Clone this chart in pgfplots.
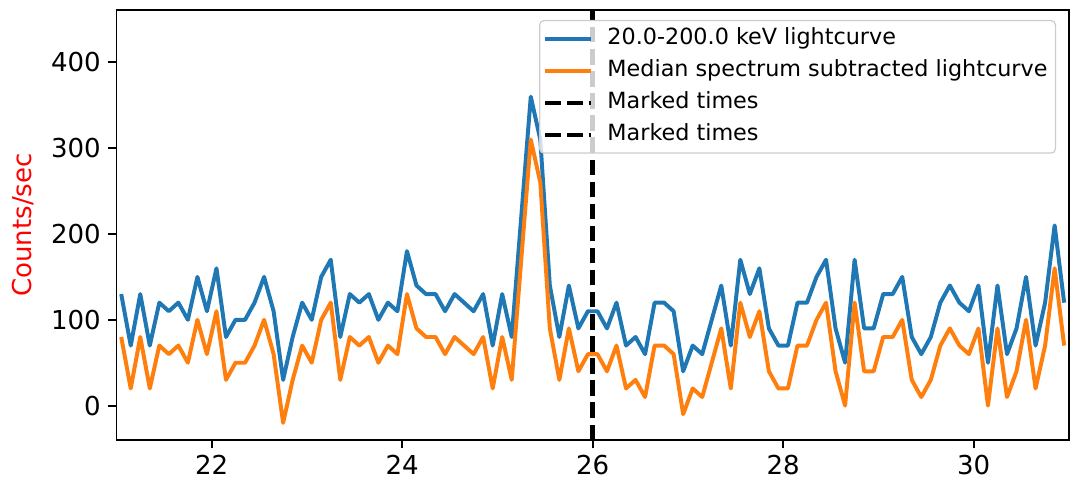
\documentclass[border=0pt]{standalone}
\usepackage{fontspec}
\setmainfont{DejaVu Sans}
\usepackage{pgfplots}
\usepackage{pgfplotstable}
\pgfplotsset{compat=1.18}

\definecolor{mplblue}{HTML}{1F77B4}
\definecolor{mplorange}{HTML}{FF7F0E}

% time (s), 20-200 keV lightcurve, median-spectrum-subtracted lightcurve
\pgfplotstableread{
t     lc   sub
21.05 130  80
21.15  70  20
21.25 130  80
21.35  70  20
21.45 120  70
21.55 110  60
21.65 120  70
21.75 100  50
21.85 150 100
21.95 110  60
22.05 160 110
22.15  80  30
22.25 100  50
22.35 100  50
22.45 120  70
22.55 150 100
22.65 110  60
22.75  30 -20
22.85  80  30
22.95 120  70
23.05 100  50
23.15 150 100
23.25 170 120
23.35  80  30
23.45 130  80
23.55 120  70
23.65 130  80
23.75 100  50
23.85 120  70
23.95 110  60
24.05 180 130
24.15 140  90
24.25 130  80
24.35 130  80
24.45 110  60
24.55 130  80
24.65 120  70
24.75 110  60
24.85 130  80
24.95  70  20
25.05 130  80
25.15  80  30
25.25 220 170
25.35 360 310
25.45 310 260
25.55 140  90
25.65  80  30
25.75 140  90
25.85  90  40
25.95 110  60
26.05 110  60
26.15  90  40
26.25 120  70
26.35  70  20
26.45  80  30
26.55  60  10
26.65 120  70
26.75 120  70
26.85 110  60
26.95  40 -10
27.05  70  20
27.15  60  10
27.25 100  50
27.35 140  90
27.45  70  20
27.55 170 120
27.65 130  80
27.75 160 110
27.85  90  40
27.95  70  20
28.05  70  20
28.15 120  70
28.25 120  70
28.35 150 100
28.45 170 120
28.55  90  40
28.65  50   0
28.75 170 120
28.85  90  40
28.95  90  40
29.05 130  80
29.15 130  80
29.25 150 100
29.35  80  30
29.45  60  10
29.55  80  30
29.65 120  70
29.75 140  90
29.85 120  70
29.95 110  60
30.05 140  90
30.15  50   0
30.25 140  90
30.35  60  10
30.45  90  40
30.55 150 100
30.65  70  20
30.75 120  70
30.85 210 160
30.95 120  70
}\lightcurve

\begin{document}
\begin{tikzpicture}
\begin{axis}[
    name=ax,
    scale only axis,
    width=457.2pt, height=206.4pt,
    xmin=21, xmax=31, ymin=-40, ymax=461,
    xtick={22,24,26,28,30},
    ytick={0,100,200,300,400},
    xtick pos=bottom, ytick pos=left,
    tick align=outside,
    major tick length=4pt,
    tick style={black, line width=0.9pt},
    axis line style={line width=0.9pt},
    ticklabel style={font=\fontsize{12.5}{15}\selectfont},
    /pgf/number format/assume math mode=true,
    ylabel={Counts/sec},
    ylabel style={red, font=\fontsize{12.5}{15}\selectfont,
        at={(axis description cs:-0.098,0.5)}, anchor=center},
    legend cell align=left,
    legend image code/.code={\draw[#1] (0pt,0pt) -- (22pt,0pt);},
    legend style={
        at={(axis description cs:1,1)}, anchor=north east,
        xshift=-6.2pt, yshift=-4.8pt,
        draw=black!20, line width=0.6pt, rounded corners=2pt,
        fill=white, fill opacity=0.8, text opacity=1,
        font=\fontsize{10.7}{12.8}\selectfont,
        inner xsep=1.5pt, inner ysep=1pt,
        row sep=0pt,
        nodes={inner xsep=2.3pt, inner ysep=2.45pt,
            text height=8pt, text depth=2.5pt},
        /tikz/every odd column/.append style={column sep=4.5pt},
    },
]
\addplot[mplblue, line width=1.9pt, line join=round]
    table[x=t, y=lc] {\lightcurve};
\addlegendentry{20.0-200.0 keV lightcurve}
\addplot[mplorange, line width=1.9pt, line join=round]
    table[x=t, y=sub] {\lightcurve};
\addlegendentry{Median spectrum subtracted lightcurve}
\addplot[black, line width=2.2pt, dash pattern=on 7.4pt off 3.2pt]
    coordinates {(26,-40) (26,461)};
\addlegendentry{Marked times}
\addplot[black, line width=2.2pt, dash pattern=on 7.4pt off 3.2pt]
    coordinates {(26,-40) (26,461)};
\addlegendentry{Marked times}
\end{axis}
\pgfresetboundingbox
\path[use as bounding box]
    ([shift={(-55.9pt,-20.2pt)}]ax.south west)
    rectangle ([shift={(1pt,4.8pt)}]ax.north east);
\end{tikzpicture}
\end{document}
